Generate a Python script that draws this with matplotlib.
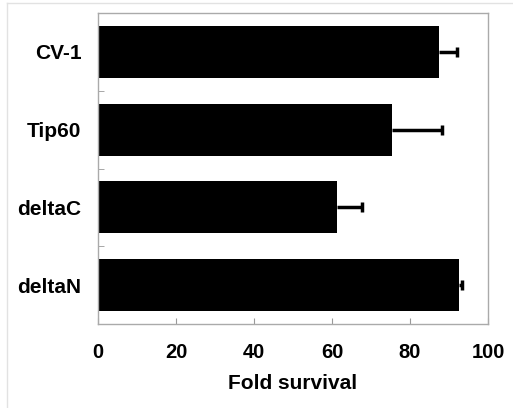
import numpy as np
import matplotlib.pyplot as plt
from matplotlib.lines import Line2D

plt.rcParams['font.family'] = ['Liberation Sans', 'DejaVu Sans']

labels = ['CV-1', 'Tip60', 'deltaC', 'deltaN']
survival = [87.4, 75.5, 61.2, 92.5]
err = [4.6, 12.6, 6.4, 0.8]

fig = plt.figure(figsize=(5.13, 4.08), dpi=100)
ax = fig.add_axes([98 / 513, 84 / 408, 390 / 513, 311 / 408])

# light border around the picture (top and left edges)
fig.add_artist(Line2D([7 / 513, 7 / 513], [0, 405 / 408], transform=fig.transFigure,
                      color='#e2e2e2', lw=1))
fig.add_artist(Line2D([7 / 513, 1], [405 / 408, 405 / 408], transform=fig.transFigure,
                      color='#e2e2e2', lw=1))

y = np.arange(len(labels))
vals = np.array(survival)
ends = vals + np.array(err)
ax.barh(y, vals, height=0.67, color='black', zorder=2)
# one-sided error bars: line from bar end out to the cap
ax.hlines(y, vals, ends, color='black', lw=2.5, zorder=3)
ax.plot(ends, y, linestyle='none', marker='|', markersize=7, mew=2.5,
        color='black', zorder=3)

ax.set_xlim(0, 100)
ax.set_ylim(len(labels) - 0.5, -0.5)
ax.set_xticks([0, 20, 40, 60, 80, 100])
ax.set_yticks(y)
ax.set_yticklabels(labels, fontsize=15, fontweight='bold')
ax.set_yticks(np.arange(0.5, len(labels) - 1, 1), minor=True)
ax.tick_params(axis='y', which='major', length=0, pad=12)
ax.tick_params(axis='y', which='minor', direction='in', length=4, color='#999999')
ax.tick_params(axis='x', direction='in', length=4, color='#999999', pad=14,
               labelsize=14.5)
for lbl in ax.get_xticklabels():
    lbl.set_fontweight('bold')

for s in ax.spines.values():
    s.set_color('#aaaaaa')
    s.set_linewidth(1)

ax.set_xlabel('Fold survival', fontsize=15, fontweight='bold', labelpad=8)

fig.savefig('out.png', dpi=100)
